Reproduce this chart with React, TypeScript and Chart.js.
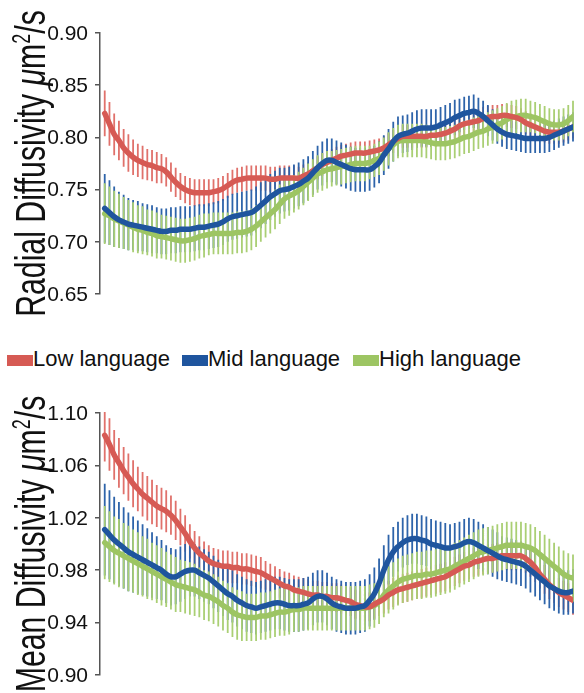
import React, { useEffect, useRef } from 'react';
import { Chart, registerables } from 'chart.js';

Chart.register(...registerables);

// ---------- data ----------
const groups = ['Low language', 'Mid language', 'High language'];
const lineColors = ['#D65A54', '#1F559E', '#9DC563'];
const barColors = ['#E0716B', '#2E64AA', '#AACF74'];

const topTicks = [0.65, 0.7, 0.75, 0.8, 0.85, 0.9];
const bottomTicks = [0.9, 0.94, 0.98, 1.02, 1.06, 1.1];
const topTitle = 'Radial Diffusivity ';
const bottomTitle = 'Mean Diffusivity ';

const topLow = [
  0.823, 0.813, 0.803, 0.797, 0.79, 0.785, 0.781, 0.778, 0.776, 0.774,
  0.773, 0.771, 0.77, 0.767, 0.762, 0.757, 0.753, 0.75, 0.748, 0.747,
  0.747, 0.747, 0.747, 0.748, 0.749, 0.751, 0.754, 0.757, 0.759, 0.76,
  0.761, 0.761, 0.761, 0.761, 0.761, 0.76, 0.76, 0.761, 0.761, 0.761,
  0.761, 0.761, 0.763, 0.765, 0.768, 0.771, 0.774, 0.776, 0.778, 0.78,
  0.782, 0.783, 0.784, 0.785, 0.785, 0.785, 0.786, 0.787, 0.788, 0.79,
  0.793, 0.796, 0.799, 0.801, 0.801, 0.801, 0.801, 0.801, 0.801, 0.802,
  0.802, 0.803, 0.804, 0.806, 0.808, 0.811, 0.813, 0.814, 0.815, 0.816,
  0.818, 0.819, 0.82, 0.82, 0.821, 0.821, 0.82, 0.819, 0.817, 0.814,
  0.812, 0.81, 0.808, 0.806, 0.805, 0.805, 0.805, 0.806, 0.808, 0.81,
];
const topMid = [
  0.732, 0.728, 0.724, 0.721, 0.719, 0.717, 0.716, 0.715, 0.714, 0.713,
  0.712, 0.711, 0.71, 0.71, 0.711, 0.711, 0.712, 0.712, 0.712, 0.713,
  0.714, 0.714, 0.715, 0.716, 0.717, 0.719, 0.722, 0.724, 0.725, 0.726,
  0.727, 0.728, 0.731, 0.735, 0.739, 0.743, 0.746, 0.749, 0.75, 0.751,
  0.753, 0.755, 0.758, 0.761, 0.766, 0.771, 0.775, 0.778, 0.778, 0.776,
  0.774, 0.772, 0.77, 0.769, 0.769, 0.769, 0.769, 0.772, 0.776, 0.783,
  0.789, 0.796, 0.801, 0.803, 0.804, 0.806, 0.808, 0.809, 0.809, 0.809,
  0.81, 0.812, 0.814, 0.816, 0.819, 0.821, 0.823, 0.824, 0.825, 0.823,
  0.82, 0.816, 0.812, 0.808, 0.805, 0.803, 0.802, 0.801, 0.8, 0.799,
  0.799, 0.799, 0.799, 0.799, 0.8, 0.802, 0.804, 0.806, 0.808, 0.81,
];
const topHigh = [
  0.727, 0.725, 0.722, 0.72, 0.718, 0.716, 0.714, 0.712, 0.711, 0.709,
  0.708, 0.706, 0.705, 0.704, 0.703, 0.702, 0.701, 0.701, 0.702, 0.703,
  0.705, 0.706, 0.707, 0.708, 0.708, 0.708, 0.708, 0.708, 0.709, 0.709,
  0.71, 0.712, 0.715, 0.719, 0.723, 0.727, 0.731, 0.736, 0.741, 0.744,
  0.746, 0.749, 0.753, 0.757, 0.761, 0.765, 0.767, 0.769, 0.77, 0.771,
  0.772, 0.773, 0.774, 0.775, 0.775, 0.775, 0.776, 0.778, 0.78, 0.784,
  0.789, 0.793, 0.796, 0.797, 0.797, 0.797, 0.797, 0.797, 0.796, 0.795,
  0.794, 0.794, 0.794, 0.795, 0.796, 0.798, 0.8, 0.801, 0.803, 0.805,
  0.806, 0.808, 0.81, 0.812, 0.814, 0.817, 0.819, 0.82, 0.821, 0.821,
  0.82, 0.819, 0.817, 0.815, 0.813, 0.812, 0.812, 0.813, 0.816, 0.82,
];
const topLowErr = [
  0.022, 0.021, 0.02, 0.019, 0.018, 0.018, 0.017, 0.016, 0.016, 0.015,
  0.015, 0.015, 0.014, 0.014, 0.014, 0.014, 0.013, 0.013, 0.013, 0.013,
  0.013, 0.013, 0.013, 0.012, 0.012, 0.012, 0.012, 0.012, 0.012, 0.012,
  0.012, 0.012, 0.012, 0.012, 0.012, 0.012, 0.012, 0.012, 0.012, 0.012,
  0.012, 0.011, 0.011, 0.011, 0.011, 0.011, 0.011, 0.011, 0.011, 0.011,
  0.011, 0.011, 0.011, 0.011, 0.011, 0.011, 0.011, 0.011, 0.011, 0.011,
  0.011, 0.011, 0.011, 0.011, 0.011, 0.011, 0.011, 0.011, 0.011, 0.011,
  0.011, 0.011, 0.011, 0.011, 0.011, 0.011, 0.011, 0.011, 0.011, 0.011,
  0.011, 0.011, 0.011, 0.011, 0.011, 0.011, 0.011, 0.011, 0.011, 0.011,
  0.011, 0.011, 0.011, 0.011, 0.011, 0.011, 0.011, 0.011, 0.011, 0.011,
];
const topMidErr = [
  0.033, 0.031, 0.029, 0.027, 0.026, 0.025, 0.024, 0.024, 0.023, 0.023,
  0.023, 0.022, 0.022, 0.022, 0.022, 0.022, 0.022, 0.022, 0.022, 0.022,
  0.022, 0.022, 0.022, 0.022, 0.022, 0.022, 0.022, 0.022, 0.022, 0.022,
  0.022, 0.022, 0.022, 0.022, 0.022, 0.022, 0.022, 0.022, 0.021, 0.021,
  0.021, 0.021, 0.021, 0.021, 0.021, 0.021, 0.021, 0.021, 0.021, 0.021,
  0.021, 0.021, 0.021, 0.021, 0.021, 0.021, 0.02, 0.02, 0.02, 0.019,
  0.019, 0.019, 0.019, 0.018, 0.018, 0.018, 0.018, 0.018, 0.018, 0.018,
  0.017, 0.017, 0.017, 0.017, 0.017, 0.016, 0.016, 0.016, 0.016, 0.015,
  0.015, 0.015, 0.015, 0.014, 0.014, 0.014, 0.014, 0.014, 0.014, 0.014,
  0.014, 0.014, 0.014, 0.014, 0.014, 0.014, 0.014, 0.014, 0.014, 0.014,
];
const topHighErr = [
  0.029, 0.028, 0.027, 0.026, 0.025, 0.024, 0.024, 0.023, 0.023, 0.022,
  0.022, 0.022, 0.021, 0.021, 0.021, 0.021, 0.021, 0.021, 0.021, 0.021,
  0.021, 0.021, 0.02, 0.02, 0.02, 0.02, 0.02, 0.02, 0.02, 0.02,
  0.02, 0.02, 0.02, 0.019, 0.019, 0.019, 0.019, 0.019, 0.019, 0.019,
  0.018, 0.018, 0.018, 0.018, 0.018, 0.018, 0.018, 0.018, 0.017, 0.017,
  0.017, 0.017, 0.017, 0.017, 0.017, 0.017, 0.016, 0.016, 0.016, 0.016,
  0.016, 0.016, 0.016, 0.016, 0.016, 0.016, 0.016, 0.016, 0.016, 0.016,
  0.016, 0.016, 0.016, 0.016, 0.016, 0.016, 0.016, 0.016, 0.016, 0.016,
  0.016, 0.016, 0.016, 0.016, 0.016, 0.016, 0.016, 0.016, 0.016, 0.016,
  0.015, 0.015, 0.015, 0.015, 0.015, 0.015, 0.015, 0.015, 0.015, 0.015,
];

const botLow = [
  1.083, 1.076, 1.068, 1.062, 1.056, 1.051, 1.046, 1.042, 1.038, 1.035,
  1.032, 1.029, 1.027, 1.025, 1.022, 1.018, 1.013, 1.008, 1.002, 0.997,
  0.993, 0.99, 0.987, 0.985, 0.984, 0.983, 0.983, 0.982, 0.982, 0.981,
  0.981, 0.98, 0.979, 0.978, 0.976, 0.974, 0.972, 0.97, 0.968, 0.967,
  0.965, 0.964, 0.963, 0.962, 0.961, 0.961, 0.96, 0.96, 0.959, 0.959,
  0.958, 0.957, 0.956, 0.954, 0.953, 0.952, 0.952, 0.954, 0.956, 0.958,
  0.961, 0.963, 0.965, 0.966, 0.967, 0.968, 0.969, 0.97, 0.971, 0.972,
  0.973, 0.974, 0.975, 0.977, 0.979, 0.981, 0.983, 0.984, 0.986, 0.987,
  0.988, 0.989, 0.989, 0.99, 0.991, 0.991, 0.991, 0.991, 0.991, 0.989,
  0.986, 0.982, 0.977, 0.973, 0.969, 0.966, 0.963, 0.961, 0.959, 0.957,
];
const botMid = [
  1.011, 1.007, 1.003, 1.0, 0.997, 0.994, 0.992, 0.99, 0.988, 0.986,
  0.984, 0.982, 0.98, 0.977, 0.975, 0.975, 0.977, 0.979, 0.98, 0.98,
  0.978, 0.976, 0.974, 0.971, 0.968, 0.965, 0.962, 0.96, 0.957, 0.955,
  0.953, 0.952, 0.951, 0.952, 0.953, 0.954, 0.955, 0.955, 0.954, 0.953,
  0.953, 0.953, 0.954, 0.955, 0.958, 0.96, 0.96, 0.958, 0.955, 0.953,
  0.952, 0.951, 0.951, 0.951, 0.952, 0.953, 0.957, 0.962, 0.97, 0.98,
  0.988, 0.994, 0.998, 1.001, 1.003, 1.004, 1.004, 1.003, 1.002, 1.0,
  0.999, 0.998, 0.997, 0.997, 0.998, 0.999, 1.001, 1.002, 1.001, 0.999,
  0.997, 0.995, 0.993, 0.991, 0.989, 0.988, 0.987, 0.986, 0.985, 0.983,
  0.98, 0.977, 0.974, 0.971, 0.968, 0.966, 0.964, 0.963, 0.963, 0.964,
];
const botHigh = [
  1.001, 0.998, 0.995, 0.993, 0.991, 0.989, 0.987, 0.985, 0.983, 0.981,
  0.979, 0.977, 0.975, 0.973, 0.971, 0.969, 0.968, 0.967, 0.966, 0.965,
  0.963, 0.961, 0.96, 0.958, 0.956, 0.953, 0.951, 0.948, 0.946, 0.945,
  0.944, 0.944, 0.944, 0.945, 0.945, 0.946, 0.947, 0.948, 0.948, 0.949,
  0.95, 0.95, 0.951, 0.951, 0.951, 0.951, 0.951, 0.951, 0.951, 0.951,
  0.951, 0.951, 0.951, 0.951, 0.951, 0.951, 0.952, 0.953, 0.956, 0.961,
  0.965, 0.968, 0.971, 0.973, 0.974, 0.975, 0.976, 0.976, 0.977, 0.977,
  0.978, 0.979, 0.98, 0.981, 0.983, 0.985, 0.987, 0.989, 0.991, 0.993,
  0.994, 0.995, 0.996, 0.997, 0.998, 0.999, 0.999, 0.999, 0.999, 0.998,
  0.997, 0.995, 0.992, 0.989, 0.986, 0.983, 0.98, 0.977, 0.975, 0.974,
];
const botLowErr = [
  0.02, 0.02, 0.019, 0.019, 0.018, 0.018, 0.018, 0.017, 0.017, 0.017,
  0.017, 0.016, 0.016, 0.016, 0.015, 0.015, 0.014, 0.014, 0.013, 0.013,
  0.013, 0.012, 0.012, 0.012, 0.012, 0.012, 0.012, 0.012, 0.012, 0.012,
  0.012, 0.012, 0.012, 0.012, 0.011, 0.011, 0.011, 0.011, 0.011, 0.011,
  0.011, 0.011, 0.011, 0.011, 0.011, 0.011, 0.011, 0.011, 0.011, 0.011,
  0.011, 0.011, 0.011, 0.011, 0.011, 0.011, 0.011, 0.011, 0.011, 0.011,
  0.011, 0.011, 0.011, 0.011, 0.011, 0.011, 0.011, 0.011, 0.011, 0.011,
  0.011, 0.011, 0.011, 0.011, 0.011, 0.011, 0.011, 0.011, 0.011, 0.011,
  0.011, 0.011, 0.011, 0.011, 0.011, 0.011, 0.011, 0.011, 0.011, 0.011,
  0.011, 0.011, 0.011, 0.011, 0.011, 0.011, 0.011, 0.011, 0.011, 0.011,
];
const botMidErr = [
  0.035, 0.034, 0.033, 0.032, 0.031, 0.03, 0.029, 0.028, 0.027, 0.026,
  0.025, 0.024, 0.023, 0.022, 0.022, 0.021, 0.021, 0.021, 0.02, 0.02,
  0.02, 0.02, 0.02, 0.02, 0.02, 0.02, 0.02, 0.02, 0.02, 0.02,
  0.02, 0.02, 0.02, 0.02, 0.02, 0.02, 0.02, 0.02, 0.02, 0.02,
  0.02, 0.02, 0.02, 0.02, 0.02, 0.02, 0.02, 0.02, 0.02, 0.02,
  0.02, 0.02, 0.02, 0.02, 0.02, 0.02, 0.02, 0.02, 0.019, 0.019,
  0.019, 0.019, 0.019, 0.019, 0.019, 0.019, 0.019, 0.019, 0.019, 0.019,
  0.019, 0.019, 0.019, 0.018, 0.018, 0.018, 0.018, 0.018, 0.018, 0.018,
  0.018, 0.018, 0.018, 0.018, 0.017, 0.017, 0.017, 0.017, 0.017, 0.017,
  0.017, 0.017, 0.017, 0.017, 0.017, 0.017, 0.017, 0.017, 0.017, 0.017,
];
const botHighErr = [
  0.028, 0.027, 0.026, 0.026, 0.025, 0.025, 0.024, 0.024, 0.023, 0.023,
  0.022, 0.022, 0.022, 0.021, 0.021, 0.021, 0.02, 0.02, 0.02, 0.02,
  0.019, 0.019, 0.019, 0.019, 0.019, 0.019, 0.019, 0.019, 0.019, 0.019,
  0.018, 0.018, 0.018, 0.018, 0.018, 0.018, 0.018, 0.018, 0.018, 0.018,
  0.017, 0.017, 0.017, 0.017, 0.017, 0.017, 0.017, 0.017, 0.017, 0.017,
  0.017, 0.017, 0.017, 0.017, 0.017, 0.017, 0.017, 0.017, 0.017, 0.017,
  0.018, 0.018, 0.018, 0.018, 0.018, 0.018, 0.018, 0.018, 0.018, 0.018,
  0.018, 0.018, 0.018, 0.018, 0.018, 0.018, 0.018, 0.018, 0.018, 0.018,
  0.018, 0.018, 0.018, 0.018, 0.018, 0.018, 0.018, 0.018, 0.018, 0.018,
  0.018, 0.018, 0.018, 0.018, 0.018, 0.018, 0.018, 0.018, 0.018, 0.018,
];

const FONT = '"Liberation Sans", Arial, Helvetica, sans-serif';
const AXIS_COLOR = '#555555';
const TEXT_COLOR = '#111111';

Chart.defaults.font.family = FONT;

// vertical error bars drawn through the chart's own scales, beneath the lines
const errorBarPlugin = {
  id: 'errorBars',
  beforeDatasetsDraw(chart: any) {
    const { ctx, chartArea } = chart;
    const xs = chart.scales.x;
    const ys = chart.scales.y;
    ctx.save();
    ctx.beginPath();
    ctx.rect(chartArea.left, chartArea.top - 1, chartArea.right - chartArea.left + 6, chartArea.bottom - chartArea.top + 2);
    ctx.clip();
    ctx.lineWidth = 1.8;
    for (const di of [0, 1, 2]) {
      const ds = chart.data.datasets[di];
      const errs: number[] = ds.errors;
      ctx.strokeStyle = ds.errorColor;
      ctx.beginPath();
      ds.data.forEach((p: any, i: number) => {
        const px = xs.getPixelForValue(p.x);
        ctx.moveTo(px, ys.getPixelForValue(p.y - errs[i]));
        ctx.lineTo(px, ys.getPixelForValue(p.y + errs[i]));
      });
      ctx.stroke();
    }
    ctx.restore();
  },
};

// y tick labels, placed at the scale's own tick positions
const tickLabelPlugin = {
  id: 'tickLabels',
  afterDraw(chart: any) {
    const { ctx } = chart;
    const ys = chart.scales.y;
    ctx.save();
    ctx.font = `21px ${FONT}`;
    ctx.fillStyle = TEXT_COLOR;
    ctx.textAlign = 'right';
    ctx.textBaseline = 'middle';
    ys.ticks.forEach((t: any) => {
      ctx.fillText(Number(t.value).toFixed(2), ys.right - 12, ys.getPixelForValue(t.value) + 1);
    });
    ctx.restore();
  },
};

// rotated axis title with italic mu and superscript 2, centred on the plot area
function makeTitlePlugin(prefix: string) {
  return {
    id: 'sideTitle',
    afterDraw(chart: any) {
      const { ctx, chartArea } = chart;
      const F = 42;
      const K = 0.72;
      const pieces = [
        { t: prefix, font: `${F}px ${FONT}`, dy: 0 },
        { t: 'μ', font: `italic ${F}px ${FONT}`, dy: 0 },
        { t: 'm', font: `${F}px ${FONT}`, dy: 0 },
        { t: '2', font: `${Math.round(F * 0.6)}px ${FONT}`, dy: -F * 0.36 },
        { t: '/s', font: `${F}px ${FONT}`, dy: 0 },
      ];
      ctx.save();
      let total = 0;
      const widths = pieces.map((p) => {
        ctx.font = p.font;
        const w = ctx.measureText(p.t).width;
        total += w;
        return w;
      });
      const cy = (chartArea.top + chartArea.bottom) / 2;
      ctx.translate(45, cy);
      ctx.rotate(-Math.PI / 2);
      ctx.scale(K, 1);
      ctx.fillStyle = TEXT_COLOR;
      ctx.textBaseline = 'alphabetic';
      ctx.textAlign = 'left';
      let x = -total / 2;
      pieces.forEach((p, i) => {
        ctx.font = p.font;
        ctx.fillText(p.t, x, p.dy);
        x += widths[i];
      });
      ctx.restore();
    },
  };
}

function buildConfig(
  series: number[][],
  errors: number[][],
  ticks: number[],
  title: string,
  padTop: number,
  padBottom: number,
): any {
  const drawPriority = [2, 1, 3]; // mid line on top, then low, then high
  return {
    type: 'line',
    data: {
      datasets: series.map((vals, s) => ({
        label: groups[s],
        data: vals.map((v, i) => ({ x: i, y: v })),
        errors: errors[s],
        errorColor: barColors[s],
        borderColor: lineColors[s],
        backgroundColor: lineColors[s],
        borderWidth: 5.5,
        borderJoinStyle: 'round',
        borderCapStyle: 'round',
        pointRadius: 0,
        tension: 0.4,
        fill: false,
        order: drawPriority[s],
      })),
    },
    options: {
      responsive: false,
      animation: false,
      events: [],
      layout: { padding: { top: padTop, bottom: padBottom, left: 0, right: 11 } },
      plugins: {
        legend: { display: false },
        tooltip: { enabled: false },
      },
      scales: {
        x: {
          type: 'linear',
          display: false,
          min: -1,
          max: 99,
        },
        y: {
          type: 'linear',
          min: ticks[0],
          max: ticks[ticks.length - 1],
          afterBuildTicks: (scale: any) => {
            scale.ticks = ticks.map((v) => ({ value: v }));
          },
          afterFit: (scale: any) => {
            scale.width = 100;
          },
          border: { display: true, color: AXIS_COLOR, width: 1.5 },
          grid: {
            drawOnChartArea: false,
            drawTicks: true,
            tickLength: 5,
            color: AXIS_COLOR,
            lineWidth: 1.5,
          },
          ticks: {
            color: 'rgba(0,0,0,0)',
            font: { family: FONT, size: 21 },
            callback: (v: number) => Number(v).toFixed(2),
          },
          title: { display: false },
        },
      },
    },
    plugins: [errorBarPlugin, tickLabelPlugin, makeTitlePlugin(title)],
  };
}

function Panel(props: {
  top: number;
  height: number;
  series: number[][];
  errors: number[][];
  ticks: number[];
  title: string;
  padTop: number;
  padBottom: number;
}) {
  const ref = useRef<HTMLCanvasElement | null>(null);
  useEffect(() => {
    if (!ref.current) return;
    const chart = new Chart(
      ref.current,
      buildConfig(props.series, props.errors, props.ticks, props.title, props.padTop, props.padBottom),
    );
    return () => chart.destroy();
  }, []);
  return (
    <canvas
      ref={ref}
      width={584}
      height={props.height}
      style={{ position: 'absolute', left: 0, top: props.top, width: 584, height: props.height }}
    />
  );
}

const legendLefts = [7, 182, 353];

export default function App() {
  return (
    <div style={{ position: 'absolute', left: 0, top: 0, width: 584, height: 693, background: '#ffffff', overflow: 'hidden' }}>
      <Panel
        top={0}
        height={330}
        series={[topLow, topMid, topHigh]}
        errors={[topLowErr, topMidErr, topHighErr]}
        ticks={topTicks}
        title={topTitle}
        padTop={33}
        padBottom={36}
      />
      <div style={{ position: 'absolute', left: 0, top: 330, width: 584, height: 50, fontFamily: FONT, fontSize: 22, color: TEXT_COLOR }}>
        {groups.map((g, i) => (
          <div key={g} style={{ position: 'absolute', left: legendLefts[i], top: 18, height: 22, lineHeight: '22px', whiteSpace: 'nowrap' }}>
            <span style={{ display: 'inline-block', width: 26, height: 11, background: lineColors[i], verticalAlign: 'baseline', marginBottom: 0 }} />
            <span>{g}</span>
          </div>
        ))}
      </div>
      <Panel
        top={380}
        height={313}
        series={[botLow, botMid, botHigh]}
        errors={[botLowErr, botMidErr, botHighErr]}
        ticks={bottomTicks}
        title={bottomTitle}
        padTop={33}
        padBottom={18}
      />
    </div>
  );
}
